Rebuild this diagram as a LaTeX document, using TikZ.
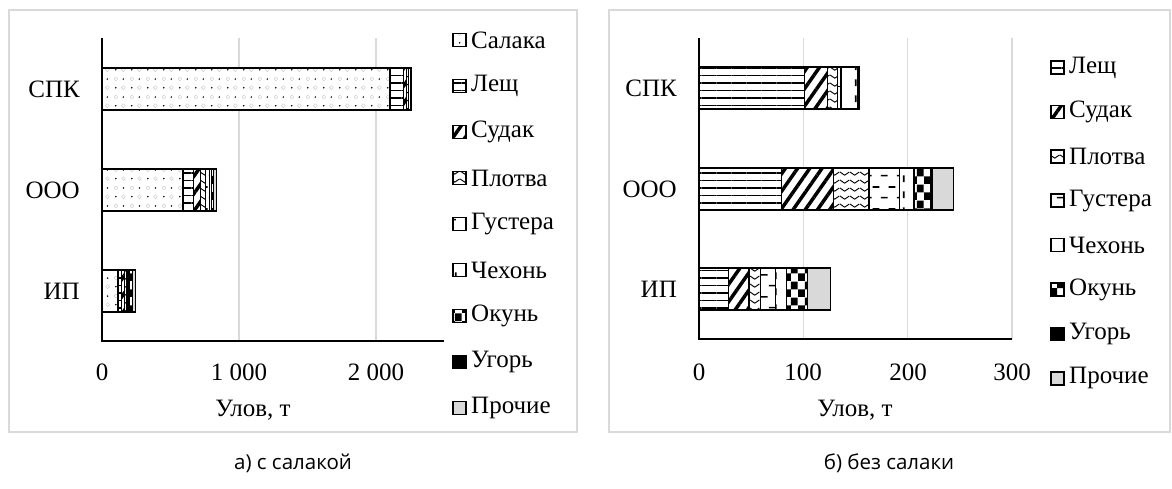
\documentclass[tikz,border=0pt]{standalone}
\usepackage{fontspec}
\setmainfont{Liberation Serif}
\newfontfamily\capfont{Open Sans}
\usetikzlibrary{patterns,patterns.meta}
\definecolor{gridc}{HTML}{D9D9D9}
\definecolor{othc}{HTML}{D9D9D9}
\pgfdeclarepatterninherentlycolored{salakap}{\pgfpointorigin}{\pgfpoint{16pt}{18pt}}{\pgfpoint{16pt}{18pt}}{%
  \pgfsetfillcolor{black}%
  \pgfpathcircle{\pgfpoint{4pt}{4.5pt}}{0.9pt}%
  \pgfpathcircle{\pgfpoint{12pt}{13.5pt}}{0.9pt}%
  \pgfusepath{fill}%
  \pgfsetstrokecolor{black!22}%
  \pgfsetlinewidth{0.4pt}%
  \pgfpathcircle{\pgfpoint{12pt}{4.5pt}}{2pt}%
  \pgfpathcircle{\pgfpoint{4pt}{13.5pt}}{2pt}%
  \pgfusepath{stroke}}
\pgfdeclarepatternformonly{plotvap}{\pgfpointorigin}{\pgfpoint{10pt}{8pt}}{\pgfpoint{10pt}{8pt}}{%
  \pgfsetlinewidth{1pt}%
  \pgfpathmoveto{\pgfpoint{0pt}{5.5pt}}%
  \pgfpathcurveto{\pgfpoint{2pt}{5.5pt}}{\pgfpoint{3pt}{2pt}}{\pgfpoint{5pt}{2pt}}%
  \pgfpathcurveto{\pgfpoint{7pt}{2pt}}{\pgfpoint{8pt}{5.5pt}}{\pgfpoint{10pt}{5.5pt}}%
  \pgfusepath{stroke}}
\pgfdeclarepatternformonly{gusterap}{\pgfpointorigin}{\pgfpoint{16pt}{22pt}}{\pgfpoint{16pt}{22pt}}{%
  \pgfsetlinewidth{1.7pt}%
  \pgfpathmoveto{\pgfpoint{1pt}{5.5pt}}\pgfpathlineto{\pgfpoint{8pt}{5.5pt}}%
  \pgfpathmoveto{\pgfpoint{9pt}{16.5pt}}\pgfpathlineto{\pgfpoint{16pt}{16.5pt}}%
  \pgfusepath{stroke}}
\pgfdeclarepatternformonly{chekhp}{\pgfpointorigin}{\pgfpoint{16pt}{16pt}}{\pgfpoint{16pt}{16pt}}{%
  \pgfsetlinewidth{1.7pt}%
  \pgfpathmoveto{\pgfpoint{8pt}{2pt}}\pgfpathlineto{\pgfpoint{8pt}{9pt}}%
  \pgfusepath{stroke}}
\pgfdeclarepatternformonly{okunp}{\pgfpointorigin}{\pgfpoint{14pt}{16pt}}{\pgfpoint{14pt}{16pt}}{%
  \pgfpathrectangle{\pgfpoint{0pt}{0pt}}{\pgfpoint{7pt}{8pt}}%
  \pgfpathrectangle{\pgfpoint{7pt}{8pt}}{\pgfpoint{7pt}{8pt}}%
  \pgfusepath{fill}}
\newcommand\mystack[5]{%
  \gdef\mybaracc{0}%
  \foreach \v/\s in {#5}{%
    \pgfmathsetmacro\mxa{#1+#2*\mybaracc}%
    \pgfmathsetmacro\mxb{#1+#2*(\mybaracc+\v)}%
    \draw[seg,\s] (\mxa,#3) rectangle (\mxb,#4);%
    \pgfmathsetmacro\mynewacc{\mybaracc+\v}%
    \global\let\mybaracc\mynewacc
  }}
\begin{document}
\begin{tikzpicture}[x=1pt,y=-1pt,
  every node/.style={inner sep=0pt, font=\fontsize{25}{29}\selectfont},
  seg/.style={draw=black,line width=1.2pt},
  pat/.style={preaction={fill=white},pattern color=black},
  sal/.style={preaction={fill=white},pattern=salakap},
  lesh/.style={pat,pattern={Lines[angle=0,distance=7.5pt,line width=1.8pt]}},
  sud/.style={pat,pattern={Lines[angle=55,distance=10pt,line width=3.5pt]}},
  plo/.style={pat,pattern=plotvap},
  gus/.style={pat,pattern=gusterap},
  chk/.style={pat,pattern=chekhp},
  oku/.style={pat,pattern=okunp},
  ugr/.style={fill=black},
  pro/.style={fill=othc},
  gridln/.style={draw=gridc,line width=1.5pt},
  axisln/.style={draw=black,line width=1.5pt},
  framebox/.style={draw=gridc,line width=1.5pt},
  legmark/.style={seg,line width=1.6pt},
  captxt/.style={font=\capfont\fontsize{20.5}{24}\selectfont}
]
\useasboundingbox (0,0) rectangle (1172,488);
% frames
\draw[framebox] (9,10) rectangle (577,432);
\draw[framebox] (609,10) rectangle (1170,432);
% ---------- left chart ----------
\foreach \g in {1000,2000} \draw[gridln] ({102+0.137*\g},38) -- ({102+0.137*\g},341);
\mystack{102}{0.137}{68}{110}{2102/sal,101/lesh,22/sud,10/plo,3/gus,16/chk,1/oku,1/ugr}
\mystack{102}{0.137}{169}{211}{591/sal,79/lesh,50/sud,34/plo,29/gus,14/chk,16/oku,2/ugr,20/pro}
\mystack{102}{0.137}{270}{312}{117/sal,28/lesh,20/sud,11/plo,14/gus,11/chk,20/oku,22/pro}
\draw[axisln] (102,38) -- (102,341) -- (444,341);
\node[anchor=east] (Lspk) at (80,89) {СПК};
\node[anchor=east] (Looo) at (80,190) {ООО};
\node[anchor=east] (Lip) at (80,291) {ИП};
\node (Lt0) at (102,372) {0};
\node (Lt1) at (239,372) {1 000};
\node (Lt2) at (376,372) {2 000};
\node (Lttl) at (253,410) {Улов, т};
\foreach \t/\s [count=\i from 0] in {Салака/sal,Лещ/lesh,Судак/sud,Плотва/plo,Густера/gus,Чехонь/chk,Окунь/oku,Угорь/ugr,Прочие/pro}{
  \pgfmathsetmacro\ly{40+46*\i}
  \draw[legmark,\s] (453,\ly-6.5) rectangle (466,\ly+6.5);
  \node[anchor=west] (Lleg\i) at (471,\ly) {\t};
}
% ---------- right chart ----------
\foreach \g in {100,200,300} \draw[gridln] ({699+1.0433*\g},38) -- ({699+1.0433*\g},339);
\mystack{699}{1.0433}{67}{109}{101/lesh,22/sud,10/plo,3/gus,16/chk,1/oku,1/ugr}
\mystack{699}{1.0433}{168}{210}{79/lesh,50/sud,34/plo,29/gus,14/chk,16/oku,2/ugr,20/pro}
\mystack{699}{1.0433}{268}{310}{28/lesh,20/sud,11/plo,14/gus,11/chk,20/oku,22/pro}
\draw[axisln] (699,38) -- (699,339) -- (1012,339);
\node[anchor=east] (Rspk) at (677,88) {СПК};
\node[anchor=east] (Rooo) at (677,189) {ООО};
\node[anchor=east] (Rip) at (677,289) {ИП};
\node (Rt0) at (699,372) {0};
\node (Rt1) at (803,372) {100};
\node (Rt2) at (908,372) {200};
\node (Rt3) at (1012,372) {300};
\node (Rttl) at (855,410) {Улов, т};
\foreach \t/\s [count=\i from 0] in {Лещ/lesh,Судак/sud,Плотва/plo,Густера/gus,Чехонь/chk,Окунь/oku,Угорь/ugr,Прочие/pro}{
  \pgfmathsetmacro\ly{67.5+44.4*\i}
  \draw[legmark,\s] (1051,\ly-6.5) rectangle (1064,\ly+6.5);
  \node[anchor=west] (Rleg\i) at (1069,\ly) {\t};
}
% captions
\node[captxt] (capA) at (293,463) {а) с салакой};
\node[captxt] (capB) at (889,463) {б) без салаки};
\end{tikzpicture}
\end{document}
